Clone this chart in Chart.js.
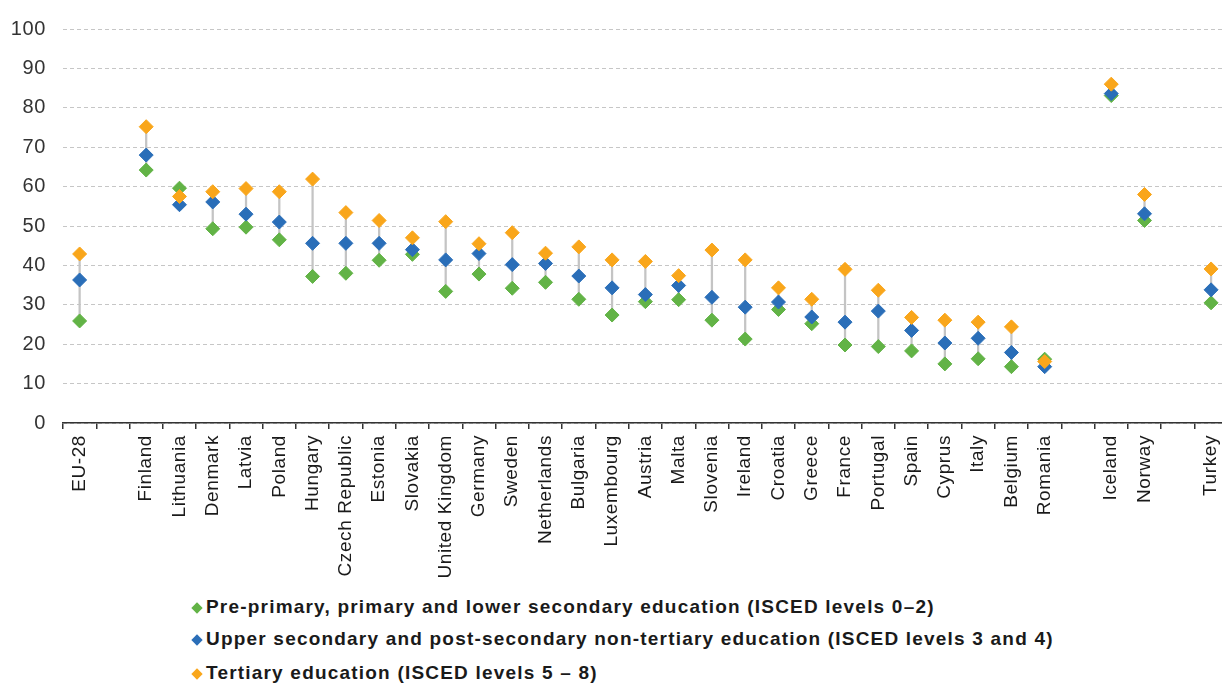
<!DOCTYPE html>
<html>
<head>
<meta charset="utf-8">
<script src="https://cdn.jsdelivr.net/npm/chart.js@4.4.1/dist/chart.umd.min.js"></script>
<style>
    html, body {
        margin: 0;
        padding: 0;
        background: #ffffff;
        overflow: hidden;
        width: 1222px;
        height: 687px;
    }
    #wrap {
        position: relative;
        width: 1240px;
        height: 590px;
    }
    .legend-row {
        position: absolute;
        left: 190px;
        height: 22px;
        line-height: 22px;
        font-family: "Liberation Sans", Arial, sans-serif;
        font-weight: bold;
        font-size: 19px;
        letter-spacing: 1.2px;
        color: #1a1a1a;
        white-space: nowrap;
    }
    .legend-row .mark {
        display: inline-block;
        width: 8px;
        height: 8px;
        margin: 0 5px 0 3px;
        transform: rotate(45deg);
        vertical-align: 1px;
    }
</style>
</head>
<body>
<div id="wrap">
    <canvas id="chart"></canvas>
</div>
<div id="legend"></div>

<script>
// Countries in chart order, empty strings are spacer slots
const countries = [
    'EU-28', '', 'Finland', 'Lithuania', 'Denmark', 'Latvia', 'Poland', 'Hungary',
    'Czech Republic', 'Estonia', 'Slovakia', 'United Kingdom', 'Germany', 'Sweden',
    'Netherlands', 'Bulgaria', 'Luxembourg', 'Austria', 'Malta', 'Slovenia', 'Ireland',
    'Croatia', 'Greece', 'France', 'Portugal', 'Spain', 'Cyprus', 'Italy', 'Belgium',
    'Romania', '', 'Iceland', 'Norway', '', 'Turkey'
];

// ISCED 0-2
const lowerSecondary = [
    25.9, null, 64.2, 59.6, 49.3, 49.7, 46.5, 37.2,
    38.0, 41.3, 42.8, 33.4, 37.8, 34.2,
    35.7, 31.4, 27.4, 30.8, 31.3, 26.1, 21.3,
    28.8, 25.2, 19.8, 19.4, 18.3, 15.0, 16.3, 14.3,
    16.2, null, 83.1, 51.4, null, 30.5
];

// ISCED 3-4
const upperSecondary = [
    36.3, null, 68.0, 55.4, 56.1, 53.0, 51.0, 45.6,
    45.6, 45.6, 44.0, 41.4, 43.0, 40.2,
    40.5, 37.3, 34.3, 32.6, 34.9, 31.9, 29.4,
    30.7, 26.9, 25.6, 28.4, 23.5, 20.3, 21.5, 17.9,
    14.3, null, 83.6, 53.1, null, 33.8
];

// ISCED 5-8
const tertiary = [
    42.9, null, 75.2, 57.5, 58.7, 59.5, 58.7, 61.9,
    53.4, 51.4, 47.0, 51.1, 45.5, 48.3,
    43.1, 44.7, 41.4, 41.0, 37.4, 43.9, 41.4,
    34.3, 31.4, 39.0, 33.7, 26.8, 26.1, 25.6, 24.4,
    15.6, null, 86.0, 58.0, null, 39.1
];

const yTicks = [0, 10, 20, 30, 40, 50, 60, 70, 80, 90, 100];

const seriesNames = [
    'Pre-primary, primary and lower secondary education (ISCED levels 0\u20132)',
    'Upper secondary and post-secondary non-tertiary education (ISCED levels 3 and 4)',
    'Tertiary education (ISCED levels 5 \u2013 8)'
];

const colors = {
    green: '#62b346',
    blue: '#2a6eb8',
    orange: '#f9a61b',
    range: '#c4c4c4'
};

// high-low connector per country
const ranges = countries.map((c, i) => {
    const vals = [lowerSecondary[i], upperSecondary[i], tertiary[i]].filter(v => v !== null);
    if (!vals.length) return null;
    return [Math.min(...vals), Math.max(...vals)];
});

function pointSeries(label, data, color, order) {
    return {
        type: 'line',
        label: label,
        data: data,
        showLine: false,
        pointStyle: 'rectRot',
        pointRadius: 7,
        pointHoverRadius: 7,
        pointBackgroundColor: color,
        pointBorderColor: color,
        pointBorderWidth: 1,
        order: order
    };
}

// slightly spaced axis lettering, like the original export
const spacedText = {
    id: 'spacedText',
    beforeDraw(chart) {
        chart.ctx.letterSpacing = '0.6px';
    },
    beforeDatasetsDraw(chart) {
        chart.ctx.letterSpacing = '0px';
    }
};

const ctx = document.getElementById('chart').getContext('2d');
const chart = new Chart(ctx, {
    data: {
        labels: countries,
        datasets: [
            {
                type: 'bar',
                label: 'range',
                data: ranges,
                backgroundColor: colors.range,
                barThickness: 1.6,
                order: 4
            },
            pointSeries(seriesNames[0], lowerSecondary, colors.green, 3),
            pointSeries(seriesNames[1], upperSecondary, colors.blue, 2),
            pointSeries(seriesNames[2], tertiary, colors.orange, 1)
        ]
    },
    plugins: [spacedText],
    options: {
        responsive: true,
        maintainAspectRatio: false,
        animation: false,
        layout: {
            padding: { top: 28, right: 8, bottom: 0, left: 0 }
        },
        plugins: {
            legend: { display: false },
            tooltip: { enabled: false }
        },
        scales: {
            x: {
                offset: true,
                grid: {
                    display: true,
                    offset: true,
                    drawOnChartArea: false,
                    drawTicks: true,
                    tickLength: 6,
                    color: '#333333',
                    lineWidth: 1.5
                },
                border: {
                    display: true,
                    color: '#333333',
                    width: 1.5
                },
                ticks: {
                    autoSkip: false,
                    maxRotation: 90,
                    minRotation: 90,
                    padding: 6,
                    color: '#1a1a1a',
                    font: { family: '"Liberation Sans", Arial, sans-serif', size: 19 }
                },
                afterFit: function(scale) {
                    scale.height = 167;
                }
            },
            y: {
                min: 0,
                max: 100,
                afterBuildTicks: function(scale) {
                    scale.ticks = yTicks.map(v => ({ value: v }));
                },
                grid: {
                    color: '#c6c6c6',
                    lineWidth: 1,
                    drawTicks: false
                },
                border: {
                    display: false,
                    dash: [4, 3]
                },
                ticks: {
                    padding: 17,
                    color: '#333333',
                    font: { family: '"Liberation Sans", Arial, sans-serif', size: 20 }
                },
                afterFit: function(scale) {
                    scale.width = 63;
                }
            }
        }
    }
});

// legend below the chart, one row per series
const legendRows = [
    { name: seriesNames[0], color: colors.green, top: 596 },
    { name: seriesNames[1], color: colors.blue, top: 628 },
    { name: seriesNames[2], color: colors.orange, top: 662 }
];
const legendBox = document.getElementById('legend');
legendRows.forEach(row => {
    const div = document.createElement('div');
    div.className = 'legend-row';
    div.style.top = row.top + 'px';
    const mark = document.createElement('span');
    mark.className = 'mark';
    mark.style.background = row.color;
    div.appendChild(mark);
    div.appendChild(document.createTextNode(row.name));
    legendBox.appendChild(div);
});
</script>
</body>
</html>
